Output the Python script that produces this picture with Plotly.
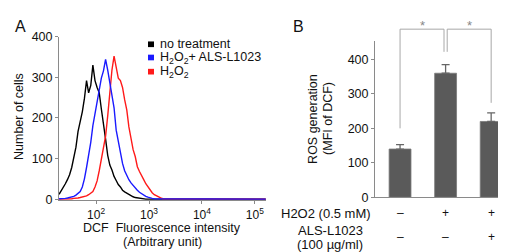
import plotly.graph_objects as go

W, H = 506, 252

# ---------------- Panel A data (flow cytometry histogram) ----------------
intensity = [20.0, 21.9, 24.0, 26.3, 28.8, 31.6, 34.7, 38.0, 41.7, 45.7,
             50.1, 55.0, 60.3, 66.1, 72.4, 79.4, 87.1, 95.5, 104.7, 114.8,
             125.9, 138.0, 151.4, 166.0, 182.0, 199.5, 218.8, 239.9, 263.0, 288.4,
             316.2, 346.7, 380.2, 416.9, 457.1, 501.2, 549.5, 602.6, 660.7, 724.4,
             794.3, 871.0, 955.0, 1047, 1148, 1259, 1380, 1514, 1660, 1820,
             1995, 3000, 10000, 100000, 160000]

no_treatment = [12, 20, 28, 38, 48, 60, 78, 100, 128, 167,
                190, 215, 248, 292, 262, 280, 330, 292, 275, 262,
                222, 178, 148, 108, 84, 72, 56, 46, 36, 30,
                22, 18, 15, 10, 8, 6, 4, 3, 2, 1,
                1, 0, 0, 0, 0, 0, 0, 0, 0, 0,
                0, 0, 0, 0, 0]

h2o2_als = [1, 1, 2, 2, 3, 4, 5, 7, 10, 14,
            19, 30, 50, 78, 105, 140, 181, 210, 240, 270,
            298, 316, 344, 318, 285, 255, 225, 170, 140, 120,
            88, 70, 58, 48, 40, 33, 28, 22, 17, 13,
            10, 7, 5, 3, 2, 1, 1, 0, 0, 0,
            0, 0, 0, 0, 0]

h2o2 = [0, 0, 0, 0, 0, 1, 1, 2, 2, 3,
        4, 5, 6, 8, 11, 15, 19, 30, 45, 70,
        98, 125, 155, 205, 262, 318, 352, 320, 298, 292,
        275, 245, 220, 178, 145, 122, 105, 80, 68, 56,
        48, 38, 30, 22, 16, 11, 8, 4, 3, 1,
        1, 0, 0, 0, 0]

series_names = ["no treatment", "H<sub>2</sub>O<sub>2</sub>+ ALS-L1023", "H<sub>2</sub>O<sub>2</sub>"]
series_colors = ["#000000", "#1a1aff", "#ff1a1a"]

x_tickvals = [100, 1000, 10000, 100000]
x_ticktext = ["10<sup>2</sup>", "10<sup>3</sup>", "10<sup>4</sup>", "10<sup>5</sup>"]
yA_tickvals = [0, 100, 200, 300, 400]

# ---------------- Panel B data (bar chart) ----------------
bar_pos = [0, 1, 2]
ros_mean = [140, 360, 220]
ros_err = [13, 25, 25]
h2o2_row = ["\u2013", "+", "+"]
als_row = ["\u2013", "\u2013", "+"]
yB_tickvals = [0, 100, 200, 300, 400]

FONT = "Liberation Sans, Arial, sans-serif"
AXC = "#8a8a8a"
FS = 12.5

def px(x):
    return x / W

def py(y):
    return 1 - y / H

fig = go.Figure()

# draw order: black, red, blue
for idx in [0, 2, 1]:
    ys = [no_treatment, h2o2_als, h2o2][idx]
    fig.add_trace(go.Scatter(x=intensity, y=ys, mode="lines",
                             line=dict(color=series_colors[idx], width=1.4),
                             xaxis="x", yaxis="y", showlegend=False, hoverinfo="skip"))

fig.add_trace(go.Bar(x=bar_pos, y=ros_mean, width=0.48,
                     marker=dict(color="#5a5a5a", line=dict(color="#7a7a7a", width=0.8)),
                     error_y=dict(type="data", array=ros_err, arrayminus=[0, 0, 0], symmetric=False,
                                  color="#666666", thickness=1.3, width=4),
                     xaxis="x2", yaxis="y2", showlegend=False, hoverinfo="skip"))

yA_bottom = 196.3
fig.update_layout(
    width=W, height=H, margin=dict(l=0, r=0, t=0, b=0),
    paper_bgcolor="white", plot_bgcolor="white",
    font=dict(family=FONT, size=FS, color="#111111"),
    xaxis=dict(domain=[px(51), px(258)], type="log", range=[1.30, 5.21],
               tickvals=x_tickvals, ticktext=x_ticktext, ticks="outside", ticklen=3,
               tickcolor=AXC, showline=True, linecolor=AXC, linewidth=1,
               showgrid=False, zeroline=False, anchor="y",
               tickfont=dict(size=12)),
    yaxis=dict(domain=[py(yA_bottom), py(23)], range=[-3, 400],
               tickvals=yA_tickvals, ticks="outside", ticklen=3, tickcolor=AXC,
               showline=True, linecolor=AXC, linewidth=1, showgrid=False,
               zeroline=False, anchor="x", tickfont=dict(size=FS)),
    xaxis2=dict(domain=[px(367), px(495)], range=[-0.55, 2.26], showticklabels=False,
                ticks="", showline=True, linecolor=AXC, linewidth=1, showgrid=False,
                zeroline=False, anchor="y2"),
    yaxis2=dict(domain=[py(193), py(27)], range=[0, 455], tickvals=yB_tickvals,
                ticks="outside", ticklen=3, tickcolor=AXC, showline=True,
                linecolor=AXC, linewidth=1, showgrid=False, zeroline=False,
                anchor="x2", tickfont=dict(size=FS)),
)

ann = []
shapes = []

# panel letters
ann.append(dict(text="A", x=px(5), y=py(12), xref="paper", yref="paper",
                showarrow=False, xanchor="left", yanchor="middle", font=dict(size=16)))
ann.append(dict(text="B", x=px(283), y=py(12), xref="paper", yref="paper",
                showarrow=False, xanchor="left", yanchor="middle", font=dict(size=16)))

# panel A titles
ann.append(dict(text="Number of cells", x=px(11), y=py(108), xref="paper", yref="paper",
                showarrow=False, textangle=-90, xanchor="center", yanchor="middle",
                font=dict(size=FS)))
ann.append(dict(text="DCF&nbsp; Fluorescence intensity", x=px(154), y=py(226), xref="paper",
                yref="paper", showarrow=False, xanchor="center", yanchor="middle",
                font=dict(size=FS)))
ann.append(dict(text="(Arbitrary unit)", x=px(154), y=py(240), xref="paper",
                yref="paper", showarrow=False, xanchor="center", yanchor="middle",
                font=dict(size=FS)))

# legend
leg_y = [31, 45, 60]
for i, name in enumerate(series_names):
    shapes.append(dict(type="rect", xref="paper", yref="paper",
                       x0=px(140), x1=px(146), y0=py(leg_y[i] + 3), y1=py(leg_y[i] - 3),
                       fillcolor=series_colors[i], line=dict(width=0)))
    ann.append(dict(text=name, x=px(150), y=py(leg_y[i]), xref="paper", yref="paper",
                    showarrow=False, xanchor="left", yanchor="middle", font=dict(size=12.5)))

# panel B titles
ann.append(dict(text="ROS generation", x=px(305), y=py(110), xref="paper", yref="paper",
                showarrow=False, textangle=-90, xanchor="center", yanchor="middle",
                font=dict(size=FS)))
ann.append(dict(text="(MFI of DCF)", x=px(320), y=py(110), xref="paper", yref="paper",
                showarrow=False, textangle=-90, xanchor="center", yanchor="middle",
                font=dict(size=FS)))

# treatment rows
ann.append(dict(text="H2O2 (0.5 mM)", x=px(365), y=py(210), xref="paper", yref="paper",
                showarrow=False, xanchor="right", yanchor="middle", font=dict(size=13)))
ann.append(dict(text="ALS-L1023", x=px(322), y=py(228), xref="paper", yref="paper",
                showarrow=False, xanchor="center", yanchor="middle", font=dict(size=13)))
ann.append(dict(text="(100 \u00b5g/ml)", x=px(322), y=py(243), xref="paper", yref="paper",
                showarrow=False, xanchor="center", yanchor="middle", font=dict(size=13)))
for i, b in enumerate(bar_pos):
    ann.append(dict(text=h2o2_row[i], x=b, y=py(210), xref="x2", yref="paper",
                    showarrow=False, xanchor="center", yanchor="middle", font=dict(size=12)))
    ann.append(dict(text=als_row[i], x=b, y=py(235), xref="x2", yref="paper",
                    showarrow=False, xanchor="center", yanchor="middle", font=dict(size=12)))

# significance brackets
BRC = "#a8a8a8"
top = py(15)
brackets = [(bar_pos[0], bar_pos[1] - 0.035, py(120), py(39)),
            (bar_pos[1] + 0.035, bar_pos[2], py(39), py(93))]
for (xa, xb, ya, yb) in brackets:
    shapes.append(dict(type="line", xref="x2", yref="paper", x0=xa, x1=xa, y0=ya, y1=top,
                       line=dict(color=BRC, width=1)))
    shapes.append(dict(type="line", xref="x2", yref="paper", x0=xa, x1=xb, y0=top, y1=top,
                       line=dict(color=BRC, width=1)))
    shapes.append(dict(type="line", xref="x2", yref="paper", x0=xb, x1=xb, y0=top, y1=yb,
                       line=dict(color=BRC, width=1)))
    ann.append(dict(text="*", x=(xa + xb) / 2, y=py(11), xref="x2", yref="paper",
                    showarrow=False, xanchor="center", yanchor="middle",
                    font=dict(size=13, color="#888888")))

fig.update_layout(annotations=ann, shapes=shapes)
fig.write_html("out.html")
